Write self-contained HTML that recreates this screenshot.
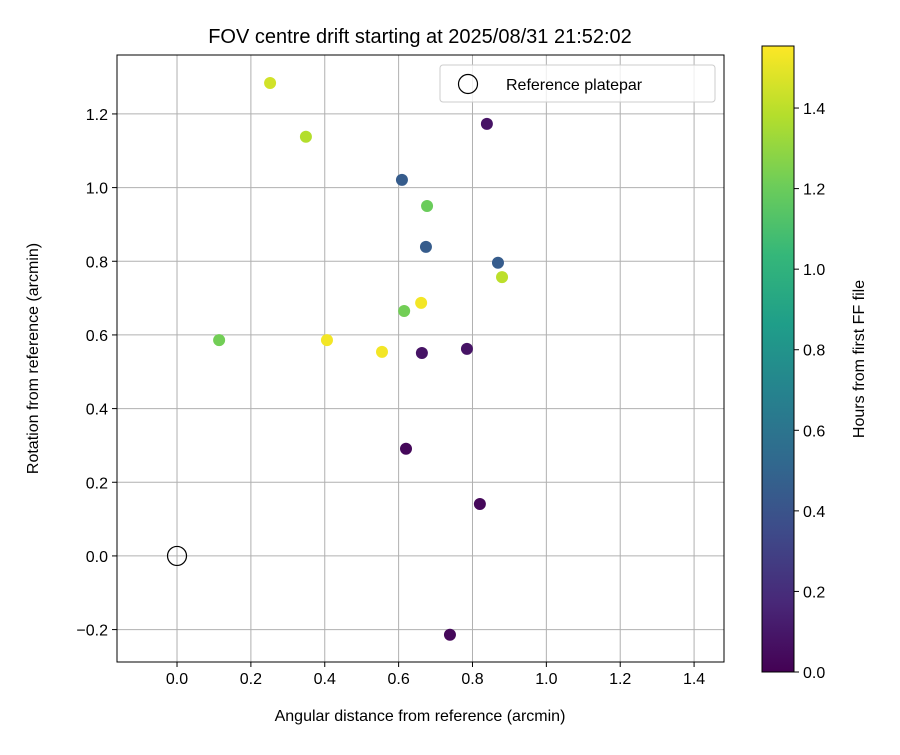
<!DOCTYPE html>
<html><head><meta charset="utf-8"><style>
body{margin:0;background:#fff;}
svg text{font-family:"Liberation Sans",sans-serif;fill:#000;}
</style></head><body>
<svg id="c" width="900" height="750" xmlns="http://www.w3.org/2000/svg"></svg>
<script>
const xs=[0.252,0.349,0.839,0.609,0.677,0.674,0.869,0.880,0.661,0.615,0.114,0.406,0.555,0.663,0.785,0.620,0.820,0.739];
const ys=[1.284,1.138,1.173,1.021,0.950,0.839,0.796,0.757,0.687,0.665,0.586,0.586,0.554,0.551,0.562,0.291,0.141,-0.214];
const hours=[1.45,1.38,0.08,0.45,1.2,0.45,0.45,1.4,1.53,1.22,1.22,1.53,1.53,0.08,0.08,0.03,0.03,0.03];
const xTicks=[0,0.2,0.4,0.6,0.8,1.0,1.2,1.4];
const yTicks=[-0.2,0,0.2,0.4,0.6,0.8,1.0,1.2];
const cTicks=[0,0.2,0.4,0.6,0.8,1.0,1.2,1.4];
const svg=document.getElementById('c');
const NS='http://www.w3.org/2000/svg';
const L=117,R=724,T=55,B=662,xmin=-0.1625,xmax=1.481,ymin=-0.288,ymax=1.360;
const X=v=>L+(v-xmin)/(xmax-xmin)*(R-L);
const Y=v=>B-(v-ymin)/(ymax-ymin)*(B-T);
const CL=762,CR=794,CT=46,CB=672,cmax=1.554;
const CY=v=>CB-v/cmax*(CB-CT);
const vir=[[68,1,84],[72,40,120],[62,74,137],[49,104,142],[38,130,142],[31,158,137],[53,183,121],[109,205,89],[180,222,44],[253,231,37]];
function col(v){let t=Math.max(0,Math.min(1,v/cmax))*(vir.length-1);let i=Math.min(Math.floor(t),vir.length-2),f=t-i;
const c=vir[i].map((a,k)=>Math.round(a+(vir[i+1][k]-a)*f));return `rgb(${c})`;}
function el(tag,attrs,txt){const e=document.createElementNS(NS,tag);for(const k in attrs)e.setAttribute(k,attrs[k]);if(txt!==undefined)e.textContent=txt;svg.appendChild(e);return e;}
const fmt=v=>(v<0?'\u2212':'')+Math.abs(v).toFixed(1);
xTicks.forEach(v=>{const g=el('line',{x1:X(v),x2:X(v),y1:T,y2:B,stroke:'#b0b0b0','stroke-width':1});

el('line',{x1:X(v),x2:X(v),y1:B,y2:B+5,stroke:'#000'});
const lb=el('text',{x:X(v),y:B+22,'text-anchor':'middle','font-size':16},fmt(v));
});
yTicks.forEach(v=>{const g=el('line',{x1:L,x2:R,y1:Y(v),y2:Y(v),stroke:'#b0b0b0','stroke-width':1});

el('line',{x1:L-5,x2:L,y1:Y(v),y2:Y(v),stroke:'#000'});
const lb=el('text',{x:L-9,y:Y(v)+6,'text-anchor':'end','font-size':16},fmt(v));
});
xs.forEach((x,i)=>{const p=el('circle',{cx:X(x),cy:Y(ys[i]),r:6,fill:col(hours[i])});
});
const ref=el('circle',{cx:X(0),cy:Y(0),r:9.5,fill:'none',stroke:'#000','stroke-width':1.2});

const fr=el('rect',{x:L,y:T,width:R-L,height:B-T,fill:'none',stroke:'#000','stroke-width':1});

const lg=el('rect',{x:440,y:65,width:275,height:37,rx:3,fill:'#fff','fill-opacity':0.8,stroke:'#ccc'});

el('circle',{cx:468,cy:84,r:9.5,fill:'none',stroke:'#000','stroke-width':1.2});
const lt=el('text',{x:506,y:90,'font-size':16},'Reference platepar');

const tt=el('text',{x:420,y:43,'text-anchor':'middle','font-size':20},'FOV centre drift starting at 2025/08/31 21:52:02');

const xt=el('text',{x:420,y:721,'text-anchor':'middle','font-size':16},'Angular distance from reference (arcmin)');

const yt=el('text',{x:0,y:0,'text-anchor':'middle','font-size':16,transform:`translate(38,${(T+B)/2}) rotate(-90)`},'Rotation from reference (arcmin)');

const defs=el('defs',{});const gr=document.createElementNS(NS,'linearGradient');gr.setAttribute('id','vg');
gr.setAttribute('x1','0');gr.setAttribute('y1','1');gr.setAttribute('x2','0');gr.setAttribute('y2','0');
vir.forEach((c,i)=>{const s=document.createElementNS(NS,'stop');s.setAttribute('offset',i/(vir.length-1));s.setAttribute('stop-color',`rgb(${c})`);gr.appendChild(s);});
defs.appendChild(gr);
const cb=el('rect',{x:CL,y:CT,width:CR-CL,height:CB-CT,fill:'url(#vg)',stroke:'#000','stroke-width':1});

cTicks.forEach(v=>{el('line',{x1:CR,x2:CR+5,y1:CY(v),y2:CY(v),stroke:'#000'});
const lb=el('text',{x:CR+9,y:CY(v)+6,'font-size':16},v.toFixed(1));
});
const ct=el('text',{x:0,y:0,'text-anchor':'middle','font-size':16,transform:`translate(864,${(CT+CB)/2}) rotate(-90)`},'Hours from first FF file');

</script>
</body></html>
